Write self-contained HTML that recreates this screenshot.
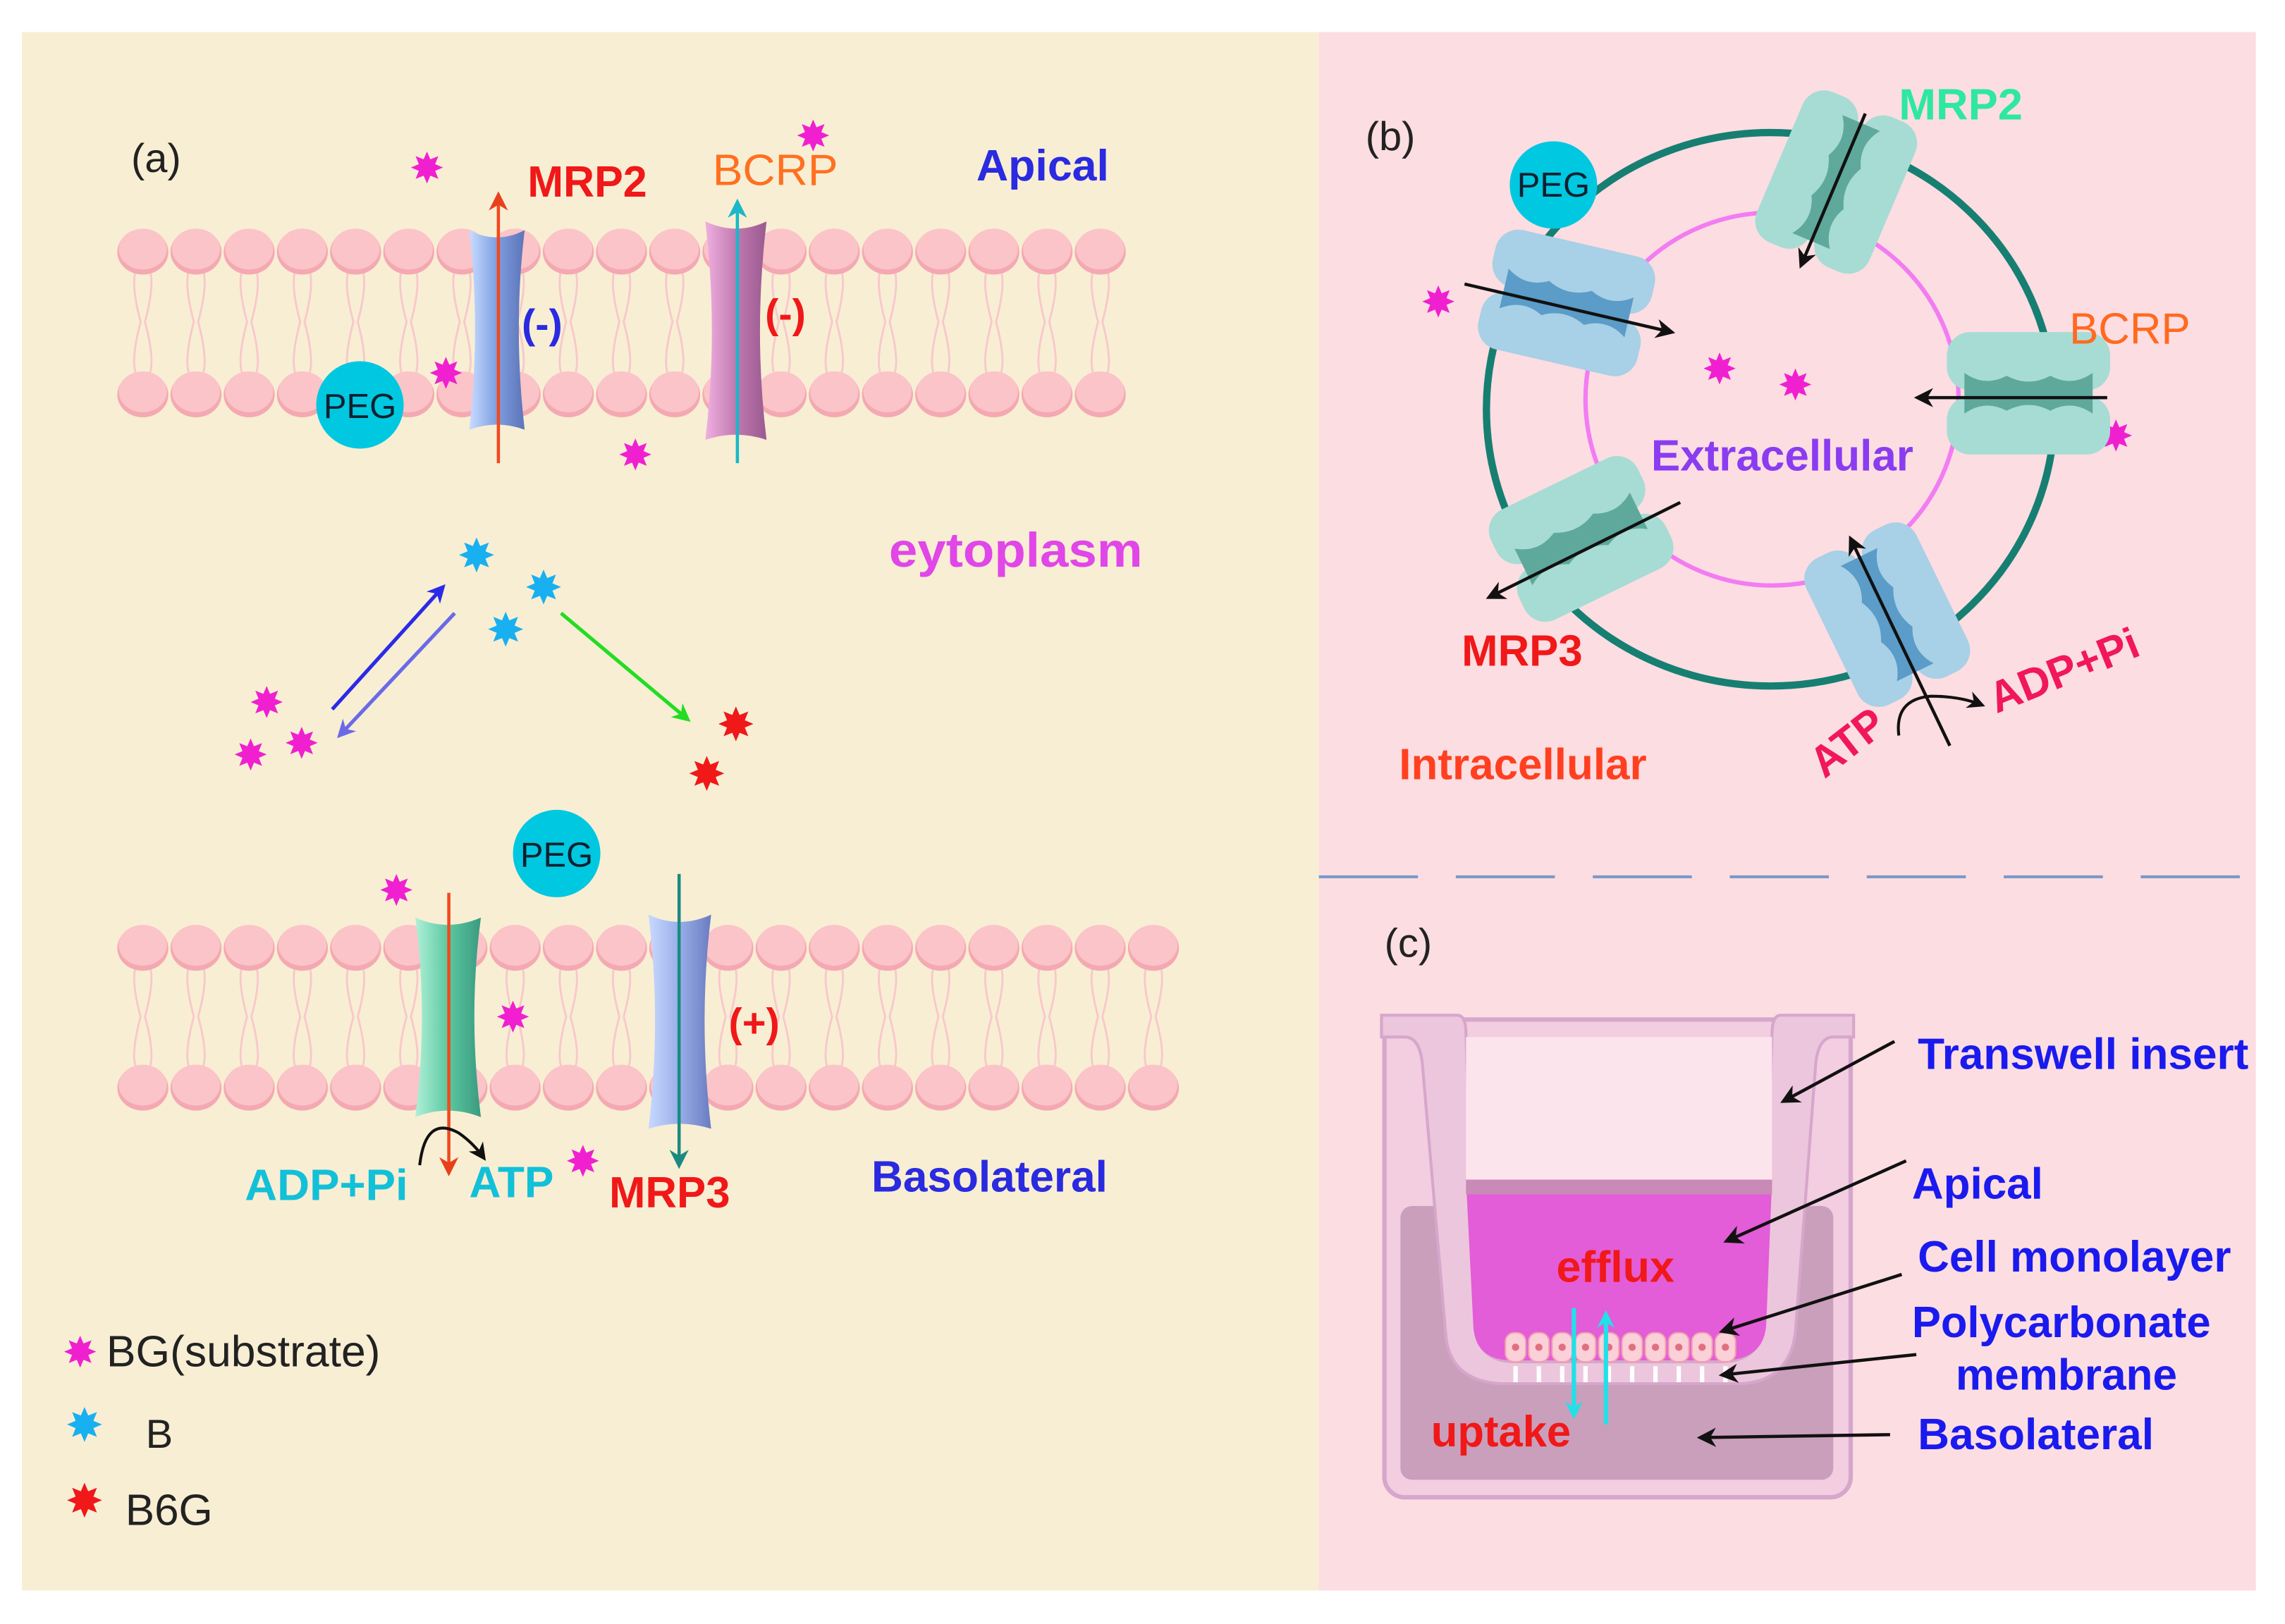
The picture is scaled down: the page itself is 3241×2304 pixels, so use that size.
<!DOCTYPE html>
<html><head><meta charset="utf-8">
<style>
html,body{margin:0;padding:0;background:#fff;}
svg{display:block;}
text{font-family:"Liberation Sans",sans-serif;}
.b{font-weight:bold;}
</style></head>
<body>
<svg id="s" width="3241" height="2304" viewBox="0 0 1568 1115" preserveAspectRatio="none" xmlns="http://www.w3.org/2000/svg">
<defs>
<marker id="ak" viewBox="0 0 10 10" refX="8" refY="5" markerWidth="6" markerHeight="6" orient="auto"><path d="M0,0 L10,5 L0,10 L3,5z" fill="#111"/></marker>
<marker id="ar2" viewBox="0 0 10 10" refX="8" refY="5" markerWidth="6" markerHeight="6" orient="auto"><path d="M0,0 L10,5 L0,10 L3,5z" fill="#e8401a"/></marker>
<marker id="ac" viewBox="0 0 10 10" refX="8" refY="5" markerWidth="6" markerHeight="6" orient="auto"><path d="M0,0 L10,5 L0,10 L3,5z" fill="#1ab8c8"/></marker>
<marker id="at" viewBox="0 0 10 10" refX="8" refY="5" markerWidth="6" markerHeight="6" orient="auto"><path d="M0,0 L10,5 L0,10 L3,5z" fill="#1a8a80"/></marker>
<marker id="ab" viewBox="0 0 10 10" refX="8" refY="5" markerWidth="5" markerHeight="5" orient="auto"><path d="M0,0 L10,5 L0,10 L3,5z" fill="#2a2ae8"/></marker>
<marker id="ap" viewBox="0 0 10 10" refX="8" refY="5" markerWidth="5" markerHeight="5" orient="auto"><path d="M0,0 L10,5 L0,10 L3,5z" fill="#6a6ae8"/></marker>
<marker id="ag" viewBox="0 0 10 10" refX="8" refY="5" markerWidth="5" markerHeight="5" orient="auto"><path d="M0,0 L10,5 L0,10 L3,5z" fill="#22dd22"/></marker>
<marker id="acy" viewBox="0 0 10 10" refX="8" refY="5" markerWidth="4" markerHeight="4" orient="auto"><path d="M0,0 L10,5 L0,10 L3,5z" fill="#22e0e8"/></marker>
<linearGradient id="gb" x1="0" x2="1"><stop offset="0" stop-color="#c8dcff"/><stop offset="0.5" stop-color="#7d9ee0"/><stop offset="1" stop-color="#5d74b8"/></linearGradient>
<linearGradient id="gp" x1="0" x2="1"><stop offset="0" stop-color="#f0b0e0"/><stop offset="0.5" stop-color="#c07ab0"/><stop offset="1" stop-color="#9a5a90"/></linearGradient>
<linearGradient id="gg" x1="0" x2="1"><stop offset="0" stop-color="#b0f0d8"/><stop offset="0.5" stop-color="#5cc8a0"/><stop offset="1" stop-color="#3a9a80"/></linearGradient>
<linearGradient id="gl" x1="0" x2="1"><stop offset="0" stop-color="#c8d8ff"/><stop offset="0.5" stop-color="#98aee8"/><stop offset="1" stop-color="#6a7cc0"/></linearGradient>
</defs>
<rect width="1568" height="1115" fill="#fff"/>
<rect x="15" y="22" width="890" height="1070" fill="#f8eed4"/>
<rect x="905" y="22" width="643" height="1070" fill="#fcdde2"/>
<line x1="905" y1="602" x2="1545" y2="602" stroke="#7a9ac8" stroke-width="2" stroke-dasharray="68,26"/>
<g id="mem"></g>
<g id="stars"></g>

<path d="M322,158 Q341,168 360,158 Q352,225 360,295 Q341,288 322,295 Q330,225 322,158z" fill="url(#gb)"/>
<path d="M484,152 Q505,162 526,152 Q517,228 526,302 Q505,295 484,302 Q493,228 484,152z" fill="url(#gp)"/>
<path d="M285,630 Q307,640 330,630 Q321,697 330,767 Q307,758 285,767 Q294,697 285,630z" fill="url(#gg)"/>
<path d="M445,628 Q466,638 488,628 Q479,700 488,775 Q466,768 445,775 Q454,700 445,628z" fill="url(#gl)"/>

<line x1="342" y1="318" x2="342" y2="134" stroke="#f04a20" stroke-width="2.2" marker-end="url(#ar2)"/>
<line x1="506" y1="318" x2="506" y2="139" stroke="#1ab8c8" stroke-width="2.2" marker-end="url(#ac)"/>
<line x1="308" y1="613" x2="308" y2="805" stroke="#f04a20" stroke-width="2.2" marker-end="url(#ar2)"/>
<line x1="466" y1="600" x2="466" y2="800" stroke="#1a8a80" stroke-width="2.2" marker-end="url(#at)"/>
<path d="M288,800 Q292,765 315,778 Q325,785 332,795" fill="none" stroke="#111" stroke-width="2" marker-end="url(#ak)"/>

<line x1="228" y1="487" x2="304" y2="403" stroke="#2a2ae8" stroke-width="2.5" marker-end="url(#ab)"/>
<line x1="312" y1="421" x2="233" y2="505" stroke="#6a6ae8" stroke-width="2.5" marker-end="url(#ap)"/>
<line x1="385" y1="421" x2="472" y2="494" stroke="#22dd22" stroke-width="2.5" marker-end="url(#ag)"/>

<circle cx="247" cy="278" r="30" fill="#00c8e0"/>
<text x="247" y="287" font-size="24" text-anchor="middle" fill="#102030" textLength="50">PEG</text>
<circle cx="382" cy="586" r="30" fill="#00c8e0"/>
<text x="382" y="595" font-size="24" text-anchor="middle" fill="#102030" textLength="50">PEG</text>

<text x="90" y="118" font-size="28" fill="#222">(a)</text>
<text x="362" y="135" font-size="30" class="b" fill="#f01818" textLength="82">MRP2</text>
<text x="489" y="127" font-size="30" fill="#ff7020" textLength="86">BCRP</text>
<text x="670" y="124" font-size="30" class="b" fill="#2a2ae0" textLength="91">Apical</text>
<text x="358" y="232" font-size="28" class="b" fill="#2a2ae0">(-)</text>
<text x="525" y="225" font-size="28" class="b" fill="#f01818">(-)</text>
<text x="610" y="389" font-size="33" class="b" fill="#e046e8" textLength="174">eytoplasm</text>
<text x="500" y="712" font-size="28" class="b" fill="#f01818">(+)</text>
<text x="168" y="824" font-size="30" class="b" fill="#12c0d8" textLength="112">ADP+Pi</text>
<text x="322" y="822" font-size="30" class="b" fill="#12c0d8" textLength="58">ATP</text>
<text x="418" y="829" font-size="30" class="b" fill="#f01818" textLength="83">MRP3</text>
<text x="598" y="818" font-size="30" class="b" fill="#2a2ae0" textLength="162">Basolateral</text>
<text x="73" y="938" font-size="30" fill="#222" textLength="188">BG(substrate)</text>
<text x="100" y="994" font-size="28" fill="#222">B</text>
<text x="86" y="1047" font-size="30" fill="#222" textLength="60">B6G</text>

<ellipse cx="1215" cy="281" rx="195" ry="190" fill="none" stroke="#167f72" stroke-width="5"/>
<circle cx="1216" cy="274" r="128" fill="none" stroke="#f27cf2" stroke-width="3"/>
<g id="tp"></g>
<circle cx="1066" cy="127" r="30" fill="#00c8e0"/>
<text x="1066" y="135" font-size="24" text-anchor="middle" fill="#102030" textLength="50">PEG</text>
<line x1="1280" y1="78" x2="1236" y2="182" stroke="#111" stroke-width="2.2" marker-end="url(#ak)"/>
<line x1="1005" y1="195" x2="1147" y2="228" stroke="#111" stroke-width="2.2" marker-end="url(#ak)"/>
<line x1="1446" y1="273" x2="1316" y2="273" stroke="#111" stroke-width="2.2" marker-end="url(#ak)"/>
<line x1="1153" y1="345" x2="1022" y2="410" stroke="#111" stroke-width="2.2" marker-end="url(#ak)"/>
<line x1="1338" y1="512" x2="1270" y2="370" stroke="#111" stroke-width="2.2" marker-end="url(#ak)"/>
<path d="M1303,505 Q1300,480 1325,478 Q1345,478 1360,484" fill="none" stroke="#111" stroke-width="2" marker-end="url(#ak)"/>
<text x="937" y="103" font-size="28" fill="#222">(b)</text>
<text x="1303" y="82" font-size="30" fill="#2ee8a0" class="b" textLength="85">MRP2</text>
<text x="1420" y="236" font-size="30" fill="#ff6a20" textLength="83">BCRP</text>
<text x="1133" y="323" font-size="30" fill="#8a3cf0" class="b" textLength="180">Extracellular</text>
<text x="1003" y="457" font-size="30" fill="#f01818" class="b" textLength="83">MRP3</text>
<text x="960" y="535" font-size="30" fill="#ff4020" class="b" textLength="170">Intracellular</text>
<text transform="translate(1252,535) rotate(-38)" font-size="30" fill="#f0185a" class="b" textLength="56">ATP</text>
<text transform="translate(1370,490) rotate(-22)" font-size="30" fill="#f0185a" class="b" textLength="108">ADP+Pi</text>

<text x="950" y="657" font-size="28" fill="#222">(c)</text>
<rect x="950" y="700" width="320" height="328" rx="14" fill="#f3cde0" stroke="#d6a6cc" stroke-width="3"/>
<rect x="961" y="828" width="297" height="188" rx="8" fill="#c99fbb"/>
<path d="M948,697 L1000,697 Q1006,697 1006,710 L1012,910 Q1014,935 1040,935 L1180,935 Q1208,935 1210,910 L1216,710 Q1216,697 1222,697 L1272,697 L1272,712 L1258,712 Q1248,712 1246,730 L1232,915 Q1228,948 1195,950 L1030,950 Q994,948 992,915 L976,730 Q974,712 964,712 L948,712z" fill="#ecc6dc" stroke="#d6a6cc" stroke-width="2"/>
<rect x="1006" y="712" width="210" height="98" fill="#fce4ec"/>
<path d="M1006,810 L1216,810 L1212,910 Q1210,934 1182,934 L1038,934 Q1012,934 1011,910z" fill="#e35cd8"/>
<rect x="1006" y="810" width="210" height="10" fill="#c98ab8"/>
<g id="cells"></g>
<line x1="1080" y1="898" x2="1080" y2="972" stroke="#22e0e8" stroke-width="3" marker-end="url(#acy)"/>
<line x1="1102" y1="978" x2="1102" y2="902" stroke="#22e0e8" stroke-width="3" marker-end="url(#acy)"/>
<text x="1068" y="880" font-size="30" fill="#f01818" class="b" textLength="81">efflux</text>
<text x="982" y="993" font-size="30" fill="#f01818" class="b" textLength="96">uptake</text>
<g stroke="#111" stroke-width="2.2">
<line x1="1300" y1="715" x2="1224" y2="756" marker-end="url(#ak)"/>
<line x1="1308" y1="797" x2="1185" y2="852" marker-end="url(#ak)"/>
<line x1="1305" y1="875" x2="1182" y2="914" marker-end="url(#ak)"/>
<line x1="1315" y1="930" x2="1182" y2="944" marker-end="url(#ak)"/>
<line x1="1297" y1="985" x2="1167" y2="987" marker-end="url(#ak)"/>
</g>
<g font-size="30" fill="#1a1aee" class="b">
<text x="1316" y="734" textLength="227">Transwell insert</text>
<text x="1312" y="823" textLength="90">Apical</text>
<text x="1316" y="873" textLength="215">Cell monolayer</text>
<text x="1312" y="918" textLength="205">Polycarbonate</text>
<text x="1342" y="954" textLength="152">membrane</text>
<text x="1316" y="995" textLength="162">Basolateral</text>
</g>
</svg>
<script>
var NS="http://www.w3.org/2000/svg";
function el(p,t,a){var e=document.createElementNS(NS,t);for(var k in a)e.setAttribute(k,a[k]);p.appendChild(e);return e;}
document.querySelectorAll('text[textLength]').forEach(function(t){t.setAttribute('lengthAdjust','spacingAndGlyphs');});
var mem=document.getElementById('mem');
function membrane(x0,n,yt,yb){
  for(var i=0;i<n;i++){var x=x0+i*36.5;
    var ym=(yt+yb)/2;
    [-5,5].forEach(function(d){
      el(mem,'path',{d:'M'+(x+d)+','+(yt+14)+' Q'+(x+d*1.6)+','+((yt+ym)/2)+' '+(x+d*0.3)+','+ym+' Q'+(x+d*1.6)+','+((yb+ym)/2)+' '+(x+d)+','+(yb-14),fill:'none',stroke:'#f8c8cc','stroke-width':1.4});
    });
    el(mem,'ellipse',{cx:x,cy:yt+1,rx:17.5,ry:15.5,fill:'#f4a9b2'});
    el(mem,'ellipse',{cx:x,cy:yt-1,rx:16.5,ry:14,fill:'#fbc4c8'});
    el(mem,'ellipse',{cx:x,cy:yb+1,rx:17.5,ry:15.5,fill:'#f4a9b2'});
    el(mem,'ellipse',{cx:x,cy:yb-1,rx:16.5,ry:14,fill:'#fbc4c8'});
  }
}
membrane(98,19,172,270);
membrane(98,20,650,746);
var st=document.getElementById('stars');
function star(x,y,r,c){var p='';for(var i=0;i<16;i++){var a=Math.PI*2*i/16-Math.PI/2;var rr=i%2?r*0.55:r;p+=(i?'L':'M')+(x+rr*Math.cos(a)).toFixed(1)+','+(y+rr*Math.sin(a)).toFixed(1);}el(st,'path',{d:p+'z',fill:c});}
var M='#f020d0';
[[293,115],[558,93],[306,256],[436,312],[183,482],[207,510],[172,518],[272,611],[352,698],[400,797],[55,928],[987,207],[1180,253],[1232,264],[1452,299]].forEach(function(p){star(p[0],p[1],11,M);});
[[327,381],[373,403],[347,432],[58,978]].forEach(function(p){star(p[0],p[1],12,'#18b0f0');});
[[505,497],[485,531],[58,1030]].forEach(function(p){star(p[0],p[1],12,'#f01818');});
var tp=document.getElementById('tp');
function trans(cx,cy,ang,light,dark){
  var g=el(tp,'g',{transform:'translate('+cx+','+cy+') rotate('+ang+')'});
  el(g,'rect',{x:-42,y:-56,width:40,height:112,rx:16,fill:light});
  el(g,'rect',{x:2,y:-56,width:40,height:112,rx:16,fill:light});
  el(g,'path',{d:'M-14,-44 Q-4,-30 -12,-15 Q-4,0 -12,15 Q-4,30 -14,44 L14,44 Q4,30 12,15 Q4,0 12,-15 Q4,-30 14,-44z',fill:dark});
}
trans(1260,125,23,'#a6dcd4','#5fa89c');
trans(1075,208,-77,'#a8d0e6','#5b9cc8');
trans(1392,270,90,'#a6dcd4','#5fa89c');
trans(1085,370,64,'#a6dcd4','#5fa89c');
trans(1295,422,154,'#a8d0e6','#5b9cc8');
var cells=document.getElementById('cells');
for(var i=0;i<10;i++){var x=1040+i*16;
  el(cells,'rect',{x:x-7,y:915,width:14,height:20,rx:6,fill:'#fbd0d8',stroke:'#f0a0b0','stroke-width':1});
  el(cells,'circle',{cx:x,cy:925,r:2.5,fill:'#e07080'});
  el(cells,'rect',{x:x-1.5,y:938,width:3,height:11,fill:'#fff'});
}
</script>
</body></html>
